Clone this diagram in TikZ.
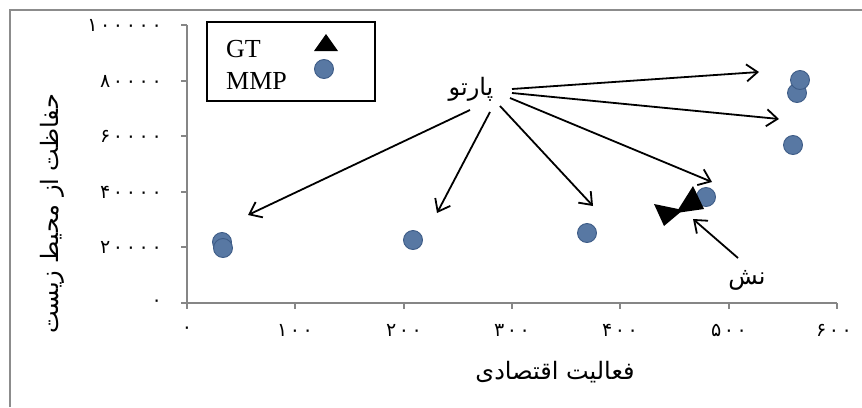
\documentclass[tikz,border=0pt]{standalone}
\usepackage{fontspec}
\setmainfont{Liberation Serif}
\newfontfamily\arabicfont[Script=Arabic]{DejaVu Sans}
\newfontfamily\digitfont[LetterSpace=14]{DejaVu Sans}
\TeXXeTstate=1
\usetikzlibrary{arrows.meta}
\definecolor{axisgray}{RGB}{134,134,134}
\definecolor{framegray}{RGB}{140,140,140}
\definecolor{mmpfill}{RGB}{88,120,163}
\definecolor{mmpedge}{RGB}{62,92,135}
\tikzset{
  axisline/.style={draw=axisgray, line width=1.5pt},
  mmp/.style={circle, fill=mmpfill, draw=mmpedge, line width=0.9pt, minimum size=19pt, inner sep=0pt},
  arr/.style={-{Straight Barb[length=11pt,width=17pt]}, line width=1.8pt, black},
  ytl/.style={anchor=east, inner sep=0pt, font=\fontsize{19}{19}\digitfont},
  xtl/.style={anchor=center, inner sep=0pt, font=\fontsize{19}{19}\digitfont},
  artext/.style={inner sep=0pt, font=\fontsize{24}{24}\arabicfont},
  legtext/.style={anchor=west, inner sep=0pt, font=\fontsize{26}{26}\selectfont},
}
\begin{document}
\begin{tikzpicture}[x=1pt,y=-1pt]
\useasboundingbox (0,0) rectangle (862,407);
\fill[white] (0,0) rectangle (862,407);
% outer frame (top and left visible)
\draw[framegray, line width=2pt] (10,407) -- (10,10) -- (862,10);
% axes
\draw[axisline] (187,25) -- (187,309);
\draw[axisline] (181,303) -- (837,303);
\foreach \yy in {25,81,136,192,247,303} {\draw[axisline] (181,\yy) -- (187,\yy);}
\foreach \xx in {187,295,404,512,620,729,837} {\draw[axisline] (\xx,303) -- (\xx,309);}
% y tick labels
\node[ytl] (y0) at (162,303) {۰};
\node[ytl] (y1) at (162,247) {۲۰۰۰۰};
\node[ytl] (y2) at (162,192) {۴۰۰۰۰};
\node[ytl] (y3) at (162,136) {۶۰۰۰۰};
\node[ytl] (y4) at (162,81) {۸۰۰۰۰};
\node[ytl] (y5) at (162,25) {۱۰۰۰۰۰};
% x tick labels
\node[xtl] (x0) at (187,330) {۰};
\node[xtl] (x1) at (295,330) {۱۰۰};
\node[xtl] (x2) at (404,330) {۲۰۰};
\node[xtl] (x3) at (512,330) {۳۰۰};
\node[xtl] (x4) at (620,330) {۴۰۰};
\node[xtl] (x5) at (729,330) {۵۰۰};
\node[xtl] (x6) at (834,330) {۶۰۰};
% axis titles
\node[artext, rotate=90] (ytitle) at (52,214) {\beginR حفاظت از محیط زیست\endR};
\node[artext] (xtitle) at (555,372) {\beginR فعالیت اقتصادی\endR};
% legend
\draw[black, line width=1.2pt] (207,22) rectangle (375,101);
\node[legtext] (lgt) at (226,49) {GT};
\node[legtext] (lmmp) at (226,81) {MMP};
\fill[black] (314,51) -- (338,51) -- (326,34) -- cycle;
\node[mmp] (lcirc) at (324,69) {};
% MMP data points
\node[mmp] (a1) at (222,242) {};
\node[mmp] (a2) at (223,248) {};
\node[mmp] (b) at (413,240) {};
\node[mmp] (c) at (587,233) {};
\node[mmp] (d) at (706,197) {};
\node[mmp] (e) at (793,145) {};
\node[mmp] (f2) at (797,93) {};
\node[mmp] (f1) at (800,80) {};
% GT data points
\fill[black] (654,204) -- (664,226) -- (683,210) -- cycle;
\fill[black] (693,186) -- (704,209) -- (676,213) -- cycle;
% labels
\node[artext] (pareto) at (471,89) {\beginR پارتو\endR};
\node[artext] (nash) at (747,280) {\beginR نش\endR};
% arrow coordinates
\coordinate (p1) at (470,110);
\coordinate (p2) at (490,112);
\coordinate (p3) at (500,106);
\coordinate (p4) at (510,98);
\coordinate (p5) at (512,93);
\coordinate (p6) at (512,89);
\coordinate (t1) at (248,215);
\coordinate (t2) at (437,213);
\coordinate (t3) at (593,206);
\coordinate (t4) at (712,182);
\coordinate (t5) at (779,119);
\coordinate (t6) at (759,72);
\coordinate (ns) at (738,258);
\coordinate (nt) at (693,219);
\foreach \i in {1,...,6} {\draw[arr] (p\i) -- (t\i);}
\draw[arr] (ns) -- (nt);
\end{tikzpicture}
\end{document}
